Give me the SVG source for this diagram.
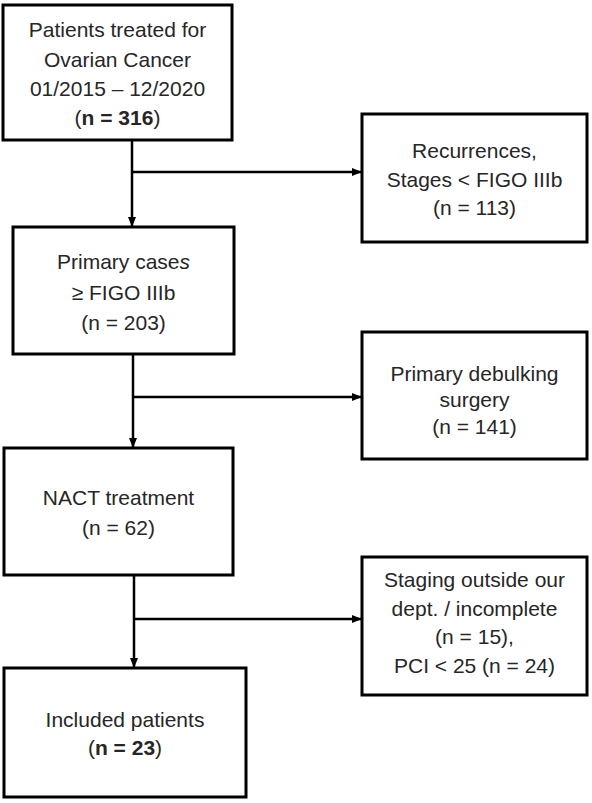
<svg xmlns="http://www.w3.org/2000/svg" width="592" height="803" viewBox="0 0 592 803">
<defs>
<marker id="arr" markerWidth="10" markerHeight="10" refX="9" refY="5" orient="auto" markerUnits="userSpaceOnUse">
<path d="M0,1 L10,5 L0,9 Z" fill="#000"/>
</marker>
<style>
.box{fill:#fff;stroke:#000;stroke-width:3}
.t{font-family:"Liberation Sans",Arial,sans-serif;font-size:21px;fill:#262626;text-anchor:middle}
.b{font-weight:bold}
.c{fill:none;stroke:#000;stroke-width:2.5}
</style>
</defs>
<rect width="592" height="803" fill="#fff"/>
<g id="connectors">
<path class="c" d="M132,140 V226" marker-end="url(#arr)"/>
<path class="c" d="M132,172 H361" marker-end="url(#arr)"/>
<path class="c" d="M133,354 V447" marker-end="url(#arr)"/>
<path class="c" d="M133,397 H361" marker-end="url(#arr)"/>
<path class="c" d="M134,575 V667" marker-end="url(#arr)"/>
<path class="c" d="M134,619 H361" marker-end="url(#arr)"/>
</g>
<g id="n1">
<rect class="box" x="3" y="5" width="229" height="135"/>
<text class="t" x="117.5" y="37">Patients treated for</text>
<text class="t" x="117.5" y="67">Ovarian Cancer</text>
<text class="t" x="117.5" y="96">01/2015 – 12/2020</text>
<text class="t" x="117.5" y="125">(<tspan class="b">n = 316</tspan>)</text>
</g>
<g id="n2">
<rect class="box" x="362" y="114" width="225" height="128"/>
<text class="t" x="474.5" y="158">Recurrences,</text>
<text class="t" x="474.5" y="187">Stages &lt; FIGO IIIb</text>
<text class="t" x="474.5" y="215">(n = 113)</text>
</g>
<g id="n3">
<rect class="box" x="13" y="227" width="221" height="127"/>
<text class="t" x="123.5" y="269">Primary case<tspan font-style="italic">s</tspan></text>
<text class="t" x="123.5" y="300">≥ FIGO IIIb</text>
<text class="t" x="123.5" y="330">(n = 203)</text>
</g>
<g id="n4">
<rect class="box" x="362" y="332" width="225" height="127"/>
<text class="t" x="474.5" y="381">Primary debulking</text>
<text class="t" x="474.5" y="407">surgery</text>
<text class="t" x="474.5" y="434">(n = 141)</text>
</g>
<g id="n5">
<rect class="box" x="4" y="448" width="229" height="127"/>
<text class="t" x="118.5" y="505">NACT treatment</text>
<text class="t" x="118.5" y="535">(n = 62)</text>
</g>
<g id="n6">
<rect class="box" x="362" y="557" width="225" height="138"/>
<text class="t" x="474.5" y="587">Staging outside our</text>
<text class="t" x="474.5" y="616">dept. / incomplete</text>
<text class="t" x="474.5" y="644">(n = 15),</text>
<text class="t" x="474.5" y="673">PCI &lt; 25 (n = 24)</text>
</g>
<g id="n7">
<rect class="box" x="4" y="668" width="242" height="129"/>
<text class="t" x="125" y="727">Included patients</text>
<text class="t" x="125" y="755">(<tspan class="b">n = 23</tspan>)</text>
</g>
</svg>
